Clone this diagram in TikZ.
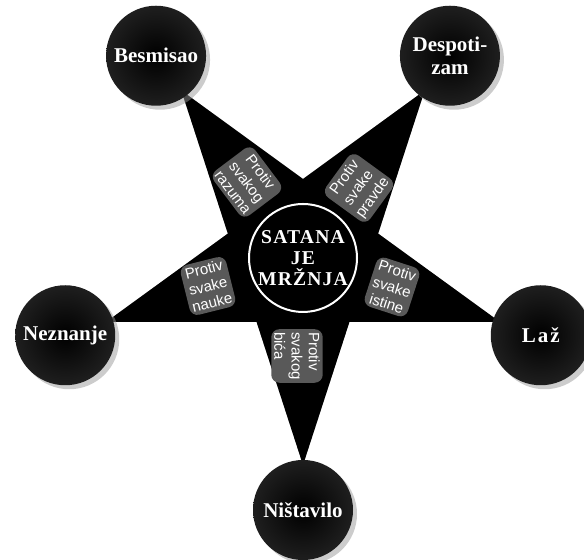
\documentclass[tikz,border=0pt]{standalone}
\usepackage{fontspec}
\newfontfamily\vicefont{Liberation Serif}
\newfontfamily\hatefont[LetterSpace=6]{Liberation Serif}
\newfontfamily\armfont{Liberation Sans}
\usetikzlibrary{positioning, calc, shadows}

\tikzset{
  vice/.style={circle, minimum size=50pt, inner sep=0pt, shading=radial, inner color=black, outer color=black!88,
    text=white, align=center, font=\vicefont\bfseries\fontsize{10.5}{11.5}\selectfont,
    drop shadow={shadow xshift=2pt, shadow yshift=-2pt, fill=black!40, opacity=0.5}},
  glow/.style={fill=black!65, rounded corners=4pt, inner sep=1.5pt},
  armtext/.style={glow, text=white, align=center, font=\armfont\fontsize{7.5}{8.6}\selectfont}
}

\begin{document}
\begin{tikzpicture}[x=0.5pt, y=0.5pt]
    \useasboundingbox (0,0) rectangle (584,560);
    \coordinate (c) at (303,302);

    % star points
    \foreach \a [count=\i] in {126,54,-18,-90,198}
        \coordinate (o\i) at ($(c)+(\a:207)$);
    \foreach \a [count=\i] in {90,18,-54,-126,162}
        \coordinate (n\i) at ($(c)+(\a:79)$);

    % star with shadow
    \fill[black!35, xshift=1.5pt, yshift=-2.5pt] (o1) -- (n1) -- (o2) -- (n2) -- (o3) -- (n3) -- (o4) -- (n4) -- (o5) -- (n5) -- cycle;
    \fill[black] (o1) -- (n1) -- (o2) -- (n2) -- (o3) -- (n3) -- (o4) -- (n4) -- (o5) -- (n5) -- cycle;

    % outer circles
    \node[vice] (besmisao) at ($(c)+(126:250)$) {Besmisao};
    \node[vice] (despotizam) at ($(c)+(54:250)$) {Despoti-\\zam};
    \node[vice] (laz) at ($(c)+(-18:250)$) {L\kern1pt a\kern1pt ž};
    \node[vice] (nistavilo) at ($(c)+(-90:252)$) {Ništavilo};
    \node[vice] (neznanje) at ($(c)+(198:250)$) {Neznanje};

    % center
    \node[circle, fill=black, minimum size=58pt, inner sep=0pt] (satana) at (c) {};
    \node[circle, draw=white, line width=1pt, minimum size=54pt, inner sep=0pt, text=white, align=center,
        font=\hatefont\bfseries\fontsize{9.8}{10.5}\selectfont] (mrznja) at (c) {SATANA\\JE\\MRŽNJA};

    % arm texts
    \node[armtext, rotate=-53] (razuma) at (247,378) {Protiv\\svakog\\razuma};
    \node[armtext, rotate=54] (pravde) at (359,372) {Protiv\\svake\\pravde};
    \node[armtext, rotate=14] (nauke) at (208,274) {Protiv\\svake\\nauke};
    \node[armtext, rotate=-18] (istine) at (392,273) {Protiv\\svake\\istine};
    \node[armtext, rotate=-90, align=left] (bica) at (297,204) {Protiv\\svakog\\bića};
\end{tikzpicture}
\end{document}
